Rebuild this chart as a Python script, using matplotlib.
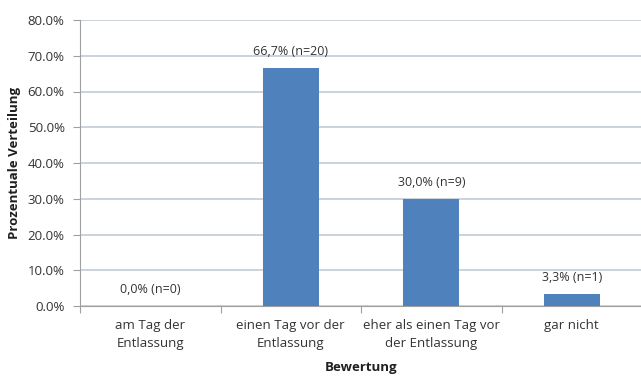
import numpy as np
import matplotlib
matplotlib.use("Agg")
import matplotlib.pyplot as plt
from matplotlib.ticker import FixedLocator

# Daten
kategorien = ['am Tag der\nEntlassung', 'einen Tag vor der\nEntlassung',
              'eher als einen Tag vor\nder Entlassung', 'gar nicht']
anteile = [0.0, 66.7, 30.0, 3.3]
beschriftung = ['0,0% (n=0)', '66,7% (n=20)', '30,0% (n=9)', '3,3% (n=1)']
y_ticks = [0, 10, 20, 30, 40, 50, 60, 70, 80]

plt.rcParams['font.family'] = ['Open Sans', 'DejaVu Sans']
textfarbe = '#333333'
gitter = '#C3CBD3'

fig = plt.figure(figsize=(6.41, 3.77), dpi=100)
ax = fig.add_axes([80 / 641, 71 / 377, 562 / 641, 286 / 377])

x = np.arange(len(kategorien))
ax.bar(x, anteile, width=0.4, color='#4F81BD', zorder=3)

for xi, wert, txt in zip(x, anteile, beschriftung):
    ax.text(xi, wert + 2.8, txt, ha='center', va='bottom', fontsize=9, color=textfarbe)

ax.set_xlim(-0.5, 3.5)
ax.set_ylim(0, 80)
ax.set_yticks(y_ticks)
ax.set_yticklabels([f'{v:.1f}%' for v in y_ticks], fontsize=9.5, color=textfarbe)
ax.yaxis.grid(True, color=gitter, linewidth=1.2, zorder=0)

# Kategoriegrenzen als Hauptstriche, Beschriftung mittig
ax.xaxis.set_major_locator(FixedLocator([-0.5, 0.5, 1.5, 2.5, 3.5]))
ax.xaxis.set_minor_locator(FixedLocator(x))
ax.set_xticklabels([])
ax.set_xticklabels(kategorien, minor=True, fontsize=9.5, color=textfarbe, linespacing=1.55)
ax.tick_params(axis='x', which='major', length=5, color='#A0A0A0')
ax.tick_params(axis='x', which='minor', length=0, pad=9)
ax.tick_params(axis='y', length=5, color='#A0A0A0', pad=6)

for s in ['top', 'right']:
    ax.spines[s].set_visible(False)
for s in ['left', 'bottom']:
    ax.spines[s].set_color('#A0A0A0')

ax.set_xlabel('Bewertung', fontsize=9.5, fontweight='bold', color='#202020', labelpad=8)
ax.set_ylabel('Prozentuale Verteilung', fontsize=9.5, fontweight='bold', color='#202020', labelpad=5)

fig.savefig('out.png', dpi=100)
